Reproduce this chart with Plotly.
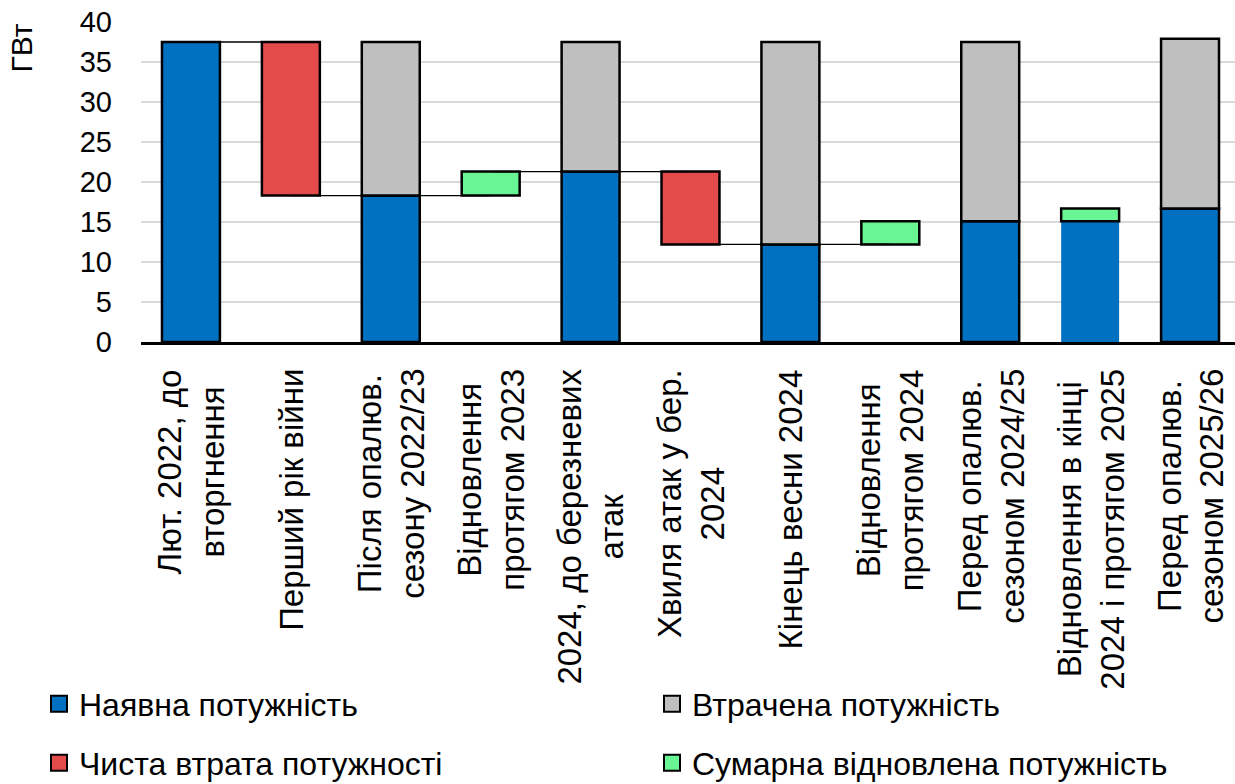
import plotly.graph_objects as go

# ---- data ----
categories = [
    "Лют. 2022, до<br>вторгнення",
    "Перший рік війни",
    "Після опалюв.<br>сезону 2022/23",
    "Відновлення<br>протягом 2023",
    "2024, до березневих<br>атак",
    "Хвиля атак у бер.<br>2024",
    "Кінець весни 2024",
    "Відновлення<br>протягом 2024",
    "Перед опалюв.<br>сезоном 2024/25",
    "Відновлення в кінці<br>2024 і протягом 2025",
    "Перед опалюв.<br>сезоном 2025/26",
]
available = [37.5, None, 18.3, None, 21.3, None, 12.2, None, 15.1, 15.1, 16.7]
lost = [None, None, 19.2, None, 16.2, None, 25.3, None, 22.4, None, 21.2]
net_loss = [None, 19.2, None, None, None, 9.1, None, None, None, None, None]
net_loss_base = [None, 18.3, None, None, None, 12.2, None, None, None, None, None]
recovered = [None, None, None, 3.0, None, None, None, 2.9, None, 1.6, None]
recovered_base = [None, None, None, 18.3, None, None, None, 12.2, None, 15.1, None]
connectors = [(0, 1), (1, 3), (3, 5), (5, 7)]
y_ticks = [0, 5, 10, 15, 20, 25, 30, 35, 40]

series_names = ["Наявна потужність", "Втрачена потужність",
                "Чиста втрата потужності", "Сумарна відновлена потужність"]
colors = ["#0070C0", "#BFBFBF", "#E34A4A", "#69F593"]

FONT = "Arial, 'Liberation Sans', sans-serif"


def z(v):
    return [0 if a is None else a for a in v]


# level at which each bar "ends" (used for waterfall connectors)
end_level = []
for i in range(len(categories)):
    if net_loss[i] is not None:
        end_level.append(net_loss_base[i])
    elif recovered[i] is not None:
        end_level.append(recovered_base[i] + recovered[i])
    else:
        end_level.append(available[i])

fig = go.Figure()

blue_lw = [2.5] * len(categories)
blue_lw[9] = 0  # no outline on this stacked base

series_vals = [available, lost, net_loss, recovered]
series_base = [[0] * len(categories), z(available), z(net_loss_base), z(recovered_base)]
legend_ids = ["legend", "legend2", "legend3", "legend4"]

for k in range(4):
    lw = blue_lw if k == 0 else 2.5
    fig.add_bar(x=categories, y=series_vals[k], base=series_base[k], name=series_names[k],
                marker=dict(color=colors[k], line=dict(color="black", width=lw)),
                showlegend=False)

for a, b in connectors:
    lvl = end_level[a]
    fig.add_scatter(x=[categories[a], categories[b]], y=[lvl, lvl], mode="lines",
                    line=dict(color="black", width=1.3), showlegend=False,
                    hoverinfo="skip")

# legend entries (square swatches)
for k in range(4):
    fig.add_scatter(x=[None], y=[None], mode="markers", name=series_names[k],
                    marker=dict(symbol="square", size=16, color=colors[k],
                                line=dict(color="black", width=2)),
                    legend=legend_ids[k], showlegend=True)

W, H = 1235, 784
ML, MT, MB = 141, 22, 442
PW, PH = W - ML, H - MT - MB

annotations = []
for c in categories:
    annotations.append(dict(x=c, y=0, xref="x", yref="paper", yanchor="top",
                            xanchor="center", yshift=-25, text=c, textangle=-90,
                            align="center", showarrow=False,
                            font=dict(size=33, color="black", family=FONT)))
annotations.append(dict(x=(21 - ML) / PW, y=(H - MB - 22) / PH, xref="paper", yref="paper",
                        xanchor="center", yanchor="top", text="ГВт", textangle=-90,
                        showarrow=False, font=dict(size=30, color="black", family=FONT)))


def leg(xpx, ypx):
    return dict(x=xpx / W, y=1 - ypx / H, xref="container", yref="container",
                xanchor="left", yanchor="middle", orientation="h", itemsizing="trace",
                font=dict(size=32, color="black", family=FONT),
                bgcolor="rgba(0,0,0,0)", borderwidth=0)


fig.update_layout(
    width=W, height=H,
    margin=dict(l=ML, r=0, t=MT, b=MB, pad=0),
    paper_bgcolor="white", plot_bgcolor="white",
    barmode="overlay", bargap=0.42,
    font=dict(family=FONT, color="black"),
    xaxis=dict(type="category", range=[-0.5, 10.45], showticklabels=False,
               showgrid=False, showline=True, linecolor="black", linewidth=2.5,
               ticks="", zeroline=False),
    yaxis=dict(range=[0, 40], tickvals=y_ticks, showgrid=True, gridcolor="#D9D9D9",
               gridwidth=2, zeroline=False, showline=False, ticks="",
               ticklabelstandoff=28, tickfont=dict(size=29, color="black", family=FONT)),
    legend=leg(39, 704),
    legend2=leg(652, 704),
    legend3=leg(39, 763),
    legend4=leg(652, 763),
    annotations=annotations,
    showlegend=True,
)

fig.write_html("out.html", config={"displayModeBar": False},
               post_script="document.body.style.margin='0';")
